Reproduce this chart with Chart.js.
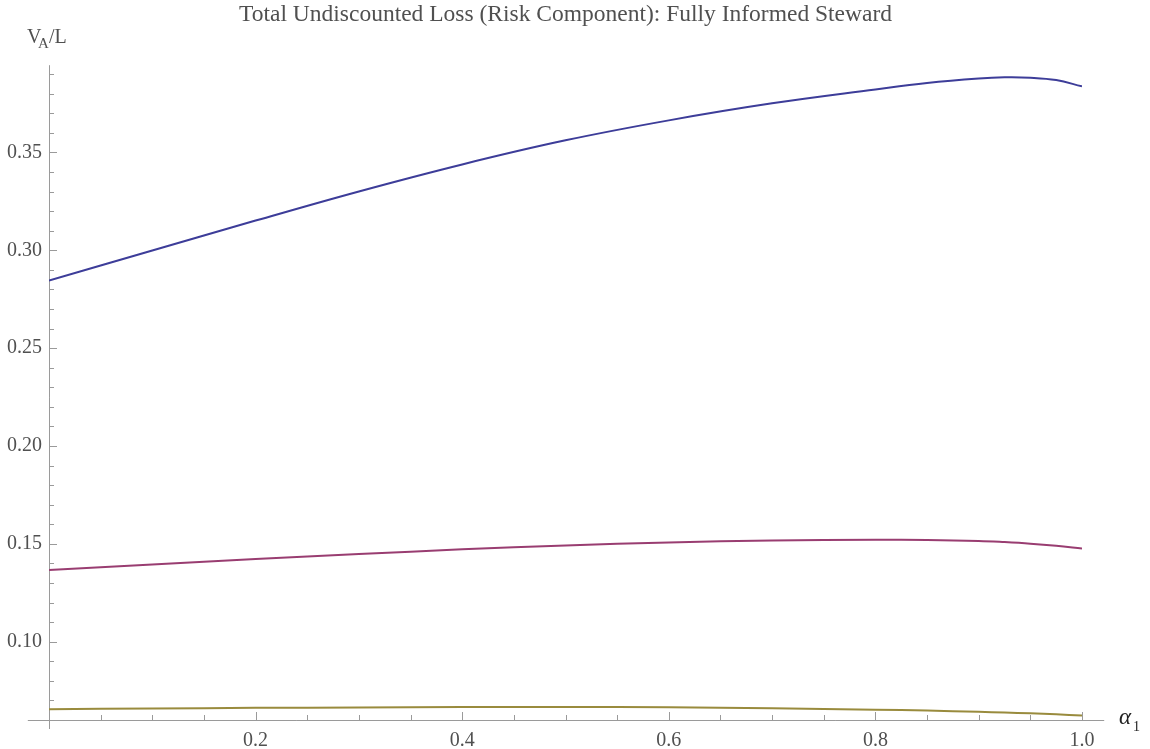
<!DOCTYPE html>
<html>
<head>
<meta charset="utf-8">
<script src="https://cdn.jsdelivr.net/npm/chart.js@4"></script>
<style>
  html, body { margin: 0; padding: 0; background: #fff; }
  #wrap { width: 1150px; height: 749px; position: relative; }
</style>
</head>
<body>
<div id="wrap"><canvas id="c" width="1150" height="749"></canvas></div>
<script>
// ---- data ----
const alphaValues = [0, 0.1, 0.2, 0.3, 0.4, 0.5, 0.6, 0.7, 0.8, 0.85, 0.9, 0.925, 0.95, 0.975, 1.0];
const seriesBlue   = [0.2845, 0.2999, 0.3152, 0.3301, 0.3439, 0.3562, 0.3664, 0.3751, 0.3822, 0.3855, 0.3878, 0.3884, 0.3882, 0.3870, 0.3838];
const seriesPurple = [0.1367, 0.1395, 0.1423, 0.1448, 0.1472, 0.1492, 0.1507, 0.1517, 0.1521, 0.1520, 0.1515, 0.1509, 0.1501, 0.1490, 0.1476];
const seriesOlive  = [0.0655, 0.0659, 0.0662, 0.0664, 0.0666, 0.0667, 0.0665, 0.0660, 0.0653, 0.0648, 0.0642, 0.0638, 0.0634, 0.0629, 0.0623];
const xTickLabels = [0.2, 0.4, 0.6, 0.8, 1.0];
const yTickLabels = [0.10, 0.15, 0.20, 0.25, 0.30, 0.35];
const titleText = 'Total Undiscounted Loss (Risk Component): Fully Informed Steward';

const toPts = ys => alphaValues.map((x, i) => ({ x: x, y: ys[i] }));

const AXIS_COLOR = '#9a9a9a';
const TEXT_COLOR = '#505050';
const FONT = '"Liberation Serif", "DejaVu Serif", serif';

const axesPlugin = {
  id: 'mathAxes',
  beforeDatasetsDraw(chart) {
    const ctx = chart.ctx;
    const xs = chart.scales.x, ys = chart.scales.y;
    const x0 = xs.getPixelForValue(0);
    const y0 = ys.getPixelForValue(0.06);
    ctx.save();
    ctx.strokeStyle = AXIS_COLOR;
    ctx.lineWidth = 1;
    // axis lines
    ctx.beginPath();
    ctx.moveTo(xs.getPixelForValue(-0.0205), Math.round(y0) + 0.5);
    ctx.lineTo(xs.getPixelForValue(1.0215), Math.round(y0) + 0.5);
    ctx.moveTo(Math.round(x0) + 0.5, ys.getPixelForValue(0.3946));
    ctx.lineTo(Math.round(x0) + 0.5, ys.getPixelForValue(0.0554));
    ctx.stroke();
    // x ticks
    ctx.beginPath();
    for (let k = 1; k <= 20; k++) {
      const v = k * 0.05;
      const px = Math.round(xs.getPixelForValue(v)) + 0.5;
      const len = (k % 4 === 0) ? 8 : 5;
      ctx.moveTo(px, Math.round(y0));
      ctx.lineTo(px, Math.round(y0) - len);
    }
    // y ticks
    for (let k = 7; k <= 39; k++) {
      const v = k * 0.01;
      const py = Math.round(ys.getPixelForValue(v)) + 0.5;
      const len = (k % 5 === 0) ? 8 : 5;
      ctx.moveTo(Math.round(x0), py);
      ctx.lineTo(Math.round(x0) + len, py);
    }
    ctx.stroke();
    ctx.restore();
  },
  afterDraw(chart) {
    const ctx = chart.ctx;
    ctx.save();
    ctx.fillStyle = TEXT_COLOR;
    ctx.textBaseline = 'alphabetic';
    ctx.textAlign = 'left';
    // y axis label V_A/L
    ctx.font = '20px ' + FONT;
    ctx.fillText('V', 27, 43);
    ctx.font = '15px ' + FONT;
    ctx.fillText('A', 38, 48);
    ctx.font = '20px ' + FONT;
    ctx.fillText('/L', 49, 43);
    // x axis label alpha_1
    ctx.fillStyle = '#222';
    ctx.font = 'italic 23px ' + FONT;
    ctx.fillText('\u03B1', 1119, 724);
    ctx.font = '14px ' + FONT;
    ctx.fillText('1', 1133, 731);
    ctx.restore();
  }
};

const lineDs = (data, color) => ({
  data: data,
  borderColor: color,
  backgroundColor: color,
  borderWidth: 2,
  pointRadius: 0,
  fill: false,
  tension: 0.4
});

new Chart(document.getElementById('c'), {
  type: 'line',
  data: {
    datasets: [
      lineDs(toPts(seriesBlue), '#3d3d99'),
      lineDs(toPts(seriesPurple), '#993d71'),
      lineDs(toPts(seriesOlive), '#998b3d')
    ]
  },
  options: {
    responsive: false,
    animation: false,
    devicePixelRatio: 1,
    layout: { padding: { left: 0, right: 68, top: 0, bottom: 0 } },
    plugins: {
      legend: { display: false },
      tooltip: { enabled: false },
      title: {
        display: true,
        text: titleText,
        fullSize: false,
        color: TEXT_COLOR,
        font: { family: FONT, size: 23.5, weight: 'normal' },
        padding: { top: 1, bottom: 36 }
      }
    },
    scales: {
      x: {
        type: 'linear',
        min: 0,
        max: 1.0,
        grid: { display: false, drawTicks: false },
        border: { display: false },
        afterBuildTicks: s => { s.ticks = xTickLabels.map(v => ({ value: v })); },
        afterFit: s => { s.height = 29; },
        ticks: {
          autoSkip: false,
          maxRotation: 0,
          padding: 9,
          color: TEXT_COLOR,
          font: { family: FONT, size: 20 },
          callback: v => v.toFixed(1)
        }
      },
      y: {
        type: 'linear',
        min: 0.06,
        max: 0.3946,
        grid: { display: false, drawTicks: false },
        border: { display: false },
        afterBuildTicks: s => { s.ticks = yTickLabels.map(v => ({ value: v })); },
        afterFit: s => { s.width = 49; },
        ticks: {
          autoSkip: false,
          padding: 7,
          color: TEXT_COLOR,
          font: { family: FONT, size: 20 },
          callback: v => v.toFixed(2)
        }
      }
    }
  },
  plugins: [axesPlugin]
});
</script>
</body>
</html>
